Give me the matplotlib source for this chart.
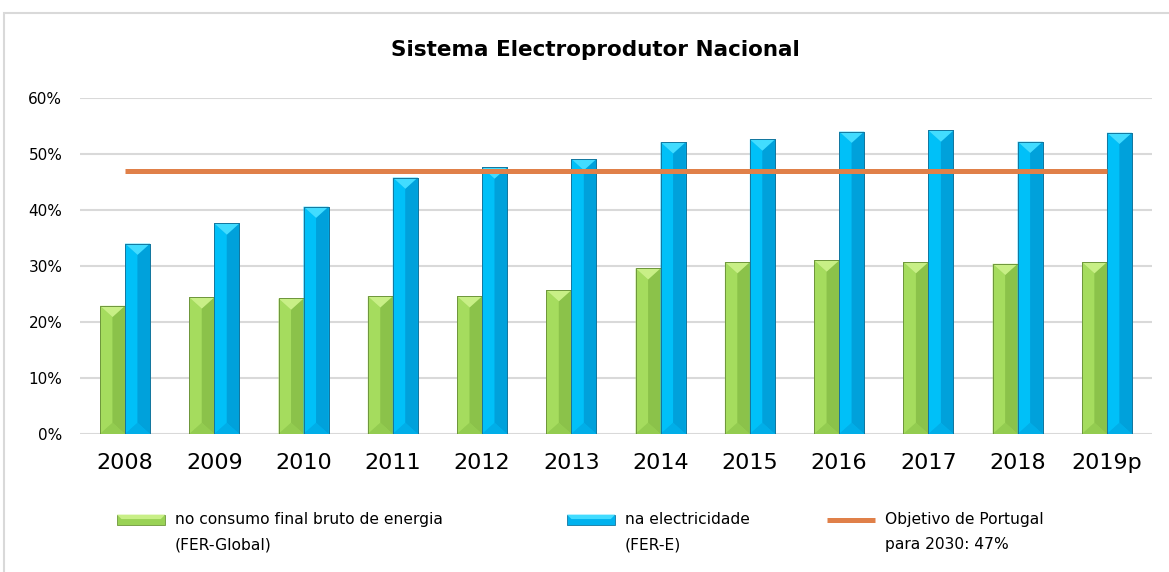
import matplotlib
matplotlib.use("Agg")
import matplotlib.pyplot as plt
from matplotlib.patches import Polygon, Rectangle, Patch
from matplotlib.lines import Line2D
from matplotlib.legend_handler import HandlerBase

# ---- data -------------------------------------------------------------
years = ["2008", "2009", "2010", "2011", "2012", "2013",
         "2014", "2015", "2016", "2017", "2018", "2019p"]
fer_global = [22.9, 24.4, 24.2, 24.6, 24.6, 25.7, 29.6, 30.7, 31.0, 30.7, 30.4, 30.7]
fer_e = [34.0, 37.6, 40.6, 45.8, 47.6, 49.1, 52.1, 52.6, 54.0, 54.2, 52.2, 53.8]
target_2030 = 47
y_ticks = [0, 10, 20, 30, 40, 50, 60]

label_global = "no consumo final bruto de energia\n(FER-Global)"
label_e = "na electricidade\n(FER-E)"
label_target = "Objetivo de Portugal\npara 2030: 47%"

# ---- styles -----------------------------------------------------------
GREEN = dict(face="#99d255", top="#c8ef86", left="#a5dc5e", right="#8bc24a",
             bottom="#93cc50", edge="#6e963c")
BLUE = dict(face="#00b2ee", top="#42dcff", left="#00c0f8", right="#00a1db",
            bottom="#00aee8", edge="#14779f")
ORANGE = "#e08049"
GRID = "#d9d9d9"

plt.rcParams["font.family"] = ["DejaVu Sans"]

W, H = 1169, 572
fig = plt.figure(figsize=(W / 100, H / 100), dpi=100)
ax = fig.add_axes([80.4 / W, 1 - 434 / H, 1071.2 / W, 336 / H])

x = list(range(len(years)))
bw = 0.28
ax.set_xlim(-0.5, len(years) - 0.5)
ax.set_ylim(0, 60)


def bevel_bars(xs, vals, offset, pal):
    bars = ax.bar([v + offset for v in xs], vals, width=bw, align="edge",
                  color=pal["face"], edgecolor=pal["edge"], linewidth=0.7, zorder=3)
    # depth of the bevel facets, as a fraction of bar width in pixels
    p0 = ax.transData.transform((0, 0))
    p1 = ax.transData.transform((bw, 1))
    w_px = p1[0] - p0[0]
    unit_px = p1[1] - p0[1]
    d = 0.45 * w_px / unit_px
    for r in bars:
        x0 = r.get_x()
        x1 = x0 + r.get_width()
        xc = (x0 + x1) / 2
        h = r.get_height()
        dd = min(d, h / 2)
        facets = [
            ([(x0, 0), (xc, dd), (xc, h - dd), (x0, h)], pal["left"]),
            ([(xc, dd), (x1, 0), (x1, h), (xc, h - dd)], pal["right"]),
            ([(x0, h), (x1, h), (xc, h - dd)], pal["top"]),
            ([(x0, 0), (x1, 0), (xc, dd)], pal["bottom"]),
        ]
        for pts, col in facets:
            ax.add_patch(Polygon(pts, closed=True, facecolor=col,
                                 edgecolor="none", zorder=3.1))
        ax.add_patch(Rectangle((x0, 0), x1 - x0, h, facecolor="none",
                               edgecolor=pal["edge"], linewidth=0.7, zorder=3.2))
    return bars


bevel_bars(x, fer_global, -bw, GREEN)
bevel_bars(x, fer_e, 0.0, BLUE)

ax.plot(x, [target_2030] * len(x), color=ORANGE, linewidth=3.6,
        solid_capstyle="butt", zorder=4)

ax.set_yticks(y_ticks)
ax.set_yticklabels([f"{t}%" for t in y_ticks], fontsize=11)
ax.set_xticks(x)
ax.set_xticklabels(years, fontsize=16)
ax.tick_params(axis="both", length=0)
ax.tick_params(axis="y", pad=13)
ax.tick_params(axis="x", pad=14)
ax.grid(axis="y", color=GRID, linewidth=1.5, zorder=0)
ax.set_axisbelow(True)
for s in ax.spines.values():
    s.set_visible(False)

fig.text(595 / W, 1 - 50 / H, "Sistema Electroprodutor Nacional",
         ha="center", va="center", fontsize=15.5, fontweight="bold")

# outer chart frame
fig.add_artist(Rectangle((4 / W, -0.1), 1.2, 1.1 - 13 / H, transform=fig.transFigure,
                         facecolor="none", edgecolor=GRID, linewidth=1.5))

LINE_SPACING = 1.85
HANDLE_SHIFT = 9.4  # points: lift the handle to the first text line


class BevelHandler(HandlerBase):
    def __init__(self, pal):
        super().__init__()
        self.pal = pal

    def create_artists(self, legend, orig_handle, xdescent, ydescent, width,
                       height, fontsize, trans):
        hh = height
        y0 = -ydescent + HANDLE_SHIFT
        x0 = -xdescent
        base = Rectangle((x0, y0), width, hh, facecolor=self.pal["face"],
                         edgecolor=self.pal["edge"], linewidth=0.6, transform=trans)
        strip = Polygon([(x0, y0 + hh), (x0 + width, y0 + hh),
                         (x0 + width - hh * 0.45, y0 + hh * 0.55),
                         (x0 + hh * 0.45, y0 + hh * 0.55)],
                        closed=True, facecolor=self.pal["top"], edgecolor="none",
                        transform=trans)
        return [base, strip]


class LineHandler(HandlerBase):
    def create_artists(self, legend, orig_handle, xdescent, ydescent, width,
                       height, fontsize, trans):
        yc = -ydescent + HANDLE_SHIFT + height / 2
        ln = Line2D([-xdescent, -xdescent + width], [yc, yc],
                    color=orig_handle.get_color(), linewidth=orig_handle.get_linewidth(),
                    solid_capstyle="butt", transform=trans)
        return [ln]


entries = [
    (117, Patch(), label_global, BevelHandler(GREEN)),
    (567, Patch(), label_e, BevelHandler(BLUE)),
    (827, Line2D([], [], color=ORANGE, linewidth=3.6), label_target, LineHandler()),
]
for xpx, handle, lab, hdl in entries:
    leg = fig.legend([handle], [lab], loc="upper left",
                     bbox_to_anchor=(xpx / W, 1 - 512 / H), frameon=False,
                     fontsize=11.2, handlelength=3.1, handleheight=0.6,
                     handletextpad=0.6, borderpad=0, borderaxespad=0,
                     handler_map={type(handle): hdl})
    for t in leg.get_texts():
        t.set_linespacing(LINE_SPACING)

fig.savefig("out.png", dpi=100, facecolor="white")
